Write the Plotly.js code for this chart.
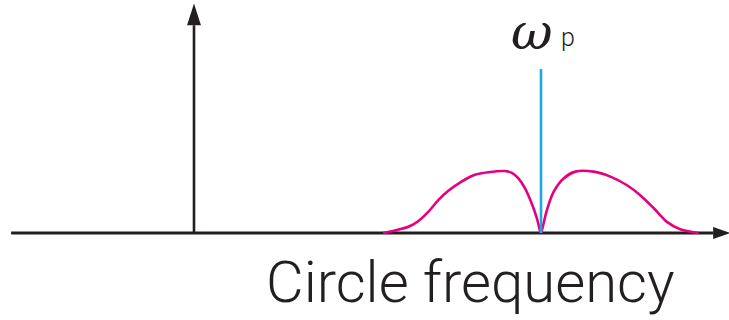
<!DOCTYPE html>
<html>
<head>
<meta charset="utf-8">
<script src="https://cdn.plot.ly/plotly-3.0.1.min.js"></script>
<style>
  html, body { margin: 0; padding: 0; background: #ffffff; }
  #chart { width: 729px; height: 320px; }
</style>
</head>
<body>
<div id="chart"></div>
<script>
// Spectrum around the pump line: frequency (arb. units, ω_p = 10) and amplitude (arb. units)
const lowerBandFreq = [5.45, 5.79, 6.18, 6.46, 6.75, 7.04, 7.33, 7.71, 8.10, 8.48, 8.96, 9.16, 9.35, 9.54, 9.73, 9.88, 9.97, 10.0];
const lowerBandAmp  = [0.00, 0.04, 0.10, 0.19, 0.34, 0.53, 0.68, 0.83, 0.94, 0.98, 1.00, 0.97, 0.88, 0.72, 0.48, 0.24, 0.04, 0.0];
const upperBandFreq = [10.0, 10.03, 10.17, 10.37, 10.65, 10.99, 11.52, 12.00, 12.48, 12.86, 13.25, 13.63, 14.01, 14.54];
const upperBandAmp  = [0.0, 0.05, 0.37, 0.67, 0.88, 0.99, 0.99, 0.91, 0.77, 0.61, 0.40, 0.18, 0.06, 0.00];

// Pump line
const pumpFreq = [10, 10];
const pumpAmp  = [0, 2.645];

const axisLabel = "Circle frequency";
const pumpLabel = "ω";
const pumpSub = "p";

// Plot extents (data units)
const X_RANGE = [-5.591, 15.418];
const Y_RANGE = [-1.403, 3.758];
const AXIS_X_START = -5.27;
const ARROW_X_BASE = 14.96, ARROW_X_TIP = 15.45;
const ARROW_Y_BASE = 3.35, ARROW_Y_TIP = 3.70, ARROW_Y_HALF = 0.20;

const ink = "#231f20";
const magenta = "#e5007f";
const cyan = "#1ba9e1";

const traces = [
  { x: lowerBandFreq, y: lowerBandAmp, mode: "lines", line: { color: magenta, width: 2.6, shape: "spline", smoothing: 0.8 }, hoverinfo: "skip" },
  { x: upperBandFreq, y: upperBandAmp, mode: "lines", line: { color: magenta, width: 2.6, shape: "spline", smoothing: 0.8 }, hoverinfo: "skip" },
  { x: pumpFreq, y: pumpAmp, mode: "lines", line: { color: cyan, width: 2.6 }, hoverinfo: "skip" }
];

const shapes = [
  // frequency axis
  { type: "line", xref: "x", yref: "y", x0: AXIS_X_START, x1: ARROW_X_BASE, y0: 0, y1: 0, line: { color: ink, width: 3.2 }, layer: "below" },
  { type: "path", xref: "x", yref: "y",
    path: `M ${ARROW_X_BASE} ${-ARROW_Y_HALF * 0.48} L ${ARROW_X_TIP} 0 L ${ARROW_X_BASE} ${ARROW_Y_HALF * 0.48} Z`,
    fillcolor: ink, line: { width: 0 } },
  // amplitude axis
  { type: "line", xref: "x", yref: "y", x0: 0, x1: 0, y0: 0, y1: ARROW_Y_BASE, line: { color: ink, width: 2.6 }, layer: "below" },
  { type: "path", xref: "x", yref: "y",
    path: `M ${-ARROW_Y_HALF} ${ARROW_Y_BASE} L 0 ${ARROW_Y_TIP} L ${ARROW_Y_HALF} ${ARROW_Y_BASE} Z`,
    fillcolor: ink, line: { width: 0 } }
];

const annotations = [
  { xref: "paper", yref: "paper", x: 532 / 729, y: 1, xanchor: "center", yanchor: "top",
    text: "<i>" + pumpLabel + "</i>", showarrow: false,
    font: { family: "DejaVu Serif", size: 51, color: ink } },
  { xref: "paper", yref: "paper", x: 568 / 729, y: 1 - 54 / 320, xanchor: "center", yanchor: "bottom",
    text: pumpSub, showarrow: false,
    font: { family: "Roboto", weight: 300, size: 25, color: ink } },
  { xref: "paper", yref: "paper", x: 470 / 729, y: 1 - 318 / 320, xanchor: "center", yanchor: "bottom",
    text: axisLabel, showarrow: false,
    font: { family: "Roboto", weight: 300, size: 58, color: ink } }
];

const layout = {
  width: 729, height: 320,
  margin: { l: 0, r: 0, t: 0, b: 0 },
  paper_bgcolor: "#ffffff", plot_bgcolor: "#ffffff",
  showlegend: false,
  xaxis: { range: X_RANGE, visible: false, fixedrange: true },
  yaxis: { range: Y_RANGE, visible: false, fixedrange: true },
  shapes: shapes,
  annotations: annotations
};

Plotly.newPlot("chart", traces, layout, { staticPlot: true, displayModeBar: false });
</script>
</body>
</html>
